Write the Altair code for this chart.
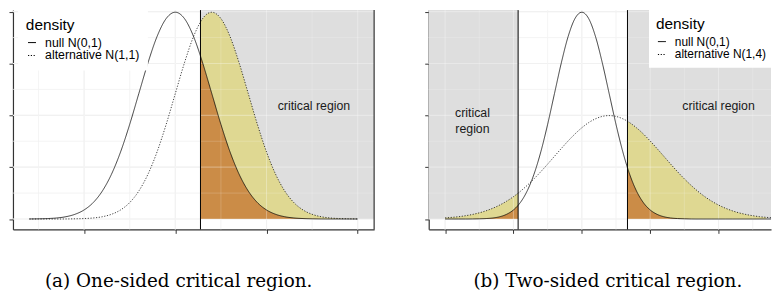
import altair as alt
import pandas as pd

# ---------------- data ----------------
# panel (a): null N(0,1) vs alternative N(1,1), one-sided critical region
xa = [-4, -3.75, -3.5, -3.25, -3, -2.75, -2.5, -2.25, -2, -1.75, -1.5, -1.25, -1,
      -0.75, -0.5, -0.25, 0, 0.25, 0.5, 0.69, 0.75, 1, 1.25, 1.5, 1.75, 2, 2.25,
      2.5, 2.75, 3, 3.25, 3.5, 3.75, 4, 4.25, 4.5, 4.75, 5]
null_a = [0.0001, 0.0004, 0.0009, 0.0020, 0.0044, 0.0091, 0.0175, 0.0317, 0.0540,
          0.0863, 0.1295, 0.1826, 0.2420, 0.3011, 0.3521, 0.3867, 0.3989, 0.3867,
          0.3521, 0.3144, 0.3011, 0.2420, 0.1826, 0.1295, 0.0863, 0.0540, 0.0317,
          0.0175, 0.0091, 0.0044, 0.0020, 0.0009, 0.0004, 0.0001, 0.0000, 0.0000,
          0.0000, 0.0000]
alt_a = [0.0000, 0.0000, 0.0000, 0.0000, 0.0001, 0.0004, 0.0009, 0.0020, 0.0044,
         0.0091, 0.0175, 0.0317, 0.0540, 0.0863, 0.1295, 0.1826, 0.2420, 0.3011,
         0.3521, 0.3802, 0.3867, 0.3989, 0.3867, 0.3521, 0.3011, 0.2420, 0.1826,
         0.1295, 0.0863, 0.0540, 0.0317, 0.0175, 0.0091, 0.0044, 0.0020, 0.0009,
         0.0004, 0.0001]
crit_a = [0.69]
regions_a = [(0.69, 5.45)]
xdom_a = [-4.45, 5.45]
xticks_a = [-2.5, 0, 2.5, 5]
xminor_a = [-3.75, -1.25, 1.25, 3.75]
labels_a = ["null N(0,1)", "alternative N(1,1)"]
text_a = [(3.80, 0.218, "critical region")]

# panel (b): null N(0,1) vs alternative N(1,4), two-sided critical region
xb = [-5, -4.75, -4.5, -4.25, -4, -3.75, -3.5, -3.25, -3, -2.75, -2.5, -2.33, -2.25,
      -2, -1.75, -1.5, -1.25, -1, -0.75, -0.5, -0.25, 0, 0.25, 0.5, 0.75, 1, 1.25,
      1.5, 1.67, 1.75, 2, 2.25, 2.5, 2.75, 3, 3.25, 3.5, 3.75, 4, 4.25, 4.5, 4.75,
      5, 5.25, 5.5, 5.75, 6, 6.25, 6.5, 6.75, 7]
null_b = [0.0000, 0.0000, 0.0000, 0.0000, 0.0001, 0.0004, 0.0009, 0.0020, 0.0044,
          0.0091, 0.0175, 0.0264, 0.0317, 0.0540, 0.0863, 0.1295, 0.1826, 0.2420,
          0.3011, 0.3521, 0.3867, 0.3989, 0.3867, 0.3521, 0.3011, 0.2420, 0.1826,
          0.1295, 0.0989, 0.0863, 0.0540, 0.0317, 0.0175, 0.0091, 0.0044, 0.0020,
          0.0009, 0.0004, 0.0001, 0.0000, 0.0000, 0.0000, 0.0000, 0.0000, 0.0000,
          0.0000, 0.0000, 0.0000, 0.0000, 0.0000, 0.0000]
alt_b = [0.0022, 0.0032, 0.0045, 0.0064, 0.0088, 0.0119, 0.0159, 0.0209, 0.0270,
         0.0344, 0.0431, 0.0499, 0.0533, 0.0648, 0.0775, 0.0913, 0.1059, 0.1210,
         0.1360, 0.1506, 0.1641, 0.1760, 0.1859, 0.1933, 0.1979, 0.1995, 0.1979,
         0.1933, 0.1886, 0.1859, 0.1760, 0.1641, 0.1506, 0.1360, 0.1210, 0.1059,
         0.0913, 0.0775, 0.0648, 0.0533, 0.0431, 0.0344, 0.0270, 0.0209, 0.0159,
         0.0119, 0.0088, 0.0064, 0.0045, 0.0032, 0.0022]
crit_b = [-2.33, 1.67]
regions_b = [(-5.6, -2.33), (1.67, 6.92)]
xdom_b = [-5.6, 6.92]
xticks_b = [-5, -2.5, 0, 2.5, 5]
xminor_b = [-3.75, -1.25, 1.25, 3.75, 6.25]
labels_b = ["null N(0,1)", "alternative N(1,4)"]
text_b = [(-4.0, 0.205, "critical\nregion"), (5.0, 0.218, "critical region")]

ydom = [-0.02, 0.403]
yticks = [0, 0.1, 0.2, 0.3, 0.4]
yminor = [0.05, 0.15, 0.25, 0.35]

GRID = "#EBEBEB"
AXIS = "#333333"
SANS = "Liberation Sans"


def panel(x, null, altd, crit, regions, xdom, xticks, xminor, labels, texts,
          width, caption, cap_dx, legend_x, legend_pad, label_size, right_border):
    xs = alt.Scale(domain=xdom, nice=False, zero=False)
    ys = alt.Scale(domain=ydom, nice=False, zero=False)
    xaxis = alt.Axis(values=xticks, labels=False, ticks=True, tickSize=4,
                     tickColor=AXIS, tickWidth=1, domainColor=AXIS, domainWidth=1.2,
                     grid=False, title=None)
    yaxis = alt.Axis(values=yticks, labels=False, ticks=True, tickSize=4,
                     tickColor=AXIS, tickWidth=1, domainColor=AXIS, domainWidth=1.2,
                     grid=False, title=None)
    X = alt.X("x:Q", scale=xs, axis=xaxis)
    Y = alt.Y("y:Q", scale=ys, axis=yaxis)

    curves = pd.DataFrame({
        "x": list(x) * 2,
        "y": list(null) + list(altd),
        "y0": [0.0] * (2 * len(x)),
        "dist": [labels[0]] * len(x) + [labels[1]] * len(x),
    })

    def in_region(row):
        return any(a <= row["x"] <= b for a, b in regions)

    fills = curves[curves.apply(in_region, axis=1)].copy()
    fills["part"] = fills["x"].apply(lambda v: 0 if v < 0 else 1)
    fills["grp"] = fills["dist"] + fills["part"].astype(str)

    vmaj = pd.DataFrame({"x": xticks})
    vmin = pd.DataFrame({"x": xminor})
    hmaj = pd.DataFrame({"y": yticks})
    hmin = pd.DataFrame({"y": yminor})
    rect = pd.DataFrame({"x": [a for a, b in regions], "x2": [b for a, b in regions],
                         "y": [0.0] * len(regions), "y2": [ydom[1]] * len(regions)})
    crit_df = pd.DataFrame({"x": crit})
    txt = pd.DataFrame({"x": [t[0] for t in texts], "y": [t[1] for t in texts],
                        "label": [t[2] for t in texts]})

    layers = []
    layers.append(alt.Chart(vmaj).mark_rule(color=GRID, strokeWidth=1.1).encode(x=X))
    layers.append(alt.Chart(vmin).mark_rule(color=GRID, strokeWidth=0.6).encode(x=X))
    layers.append(alt.Chart(hmaj).mark_rule(color=GRID, strokeWidth=1.1).encode(y=Y))
    layers.append(alt.Chart(hmin).mark_rule(color=GRID, strokeWidth=0.6).encode(y=Y))
    layers.append(alt.Chart(rect).mark_rect(color="#DEDEDE", clip=True).encode(
        x=X, x2="x2:Q", y=Y, y2="y2:Q"))
    layers.append(alt.Chart(fills[fills["dist"] == labels[1]]).mark_area(
        color="#DFD892", interpolate="monotone", clip=True).encode(
        x=X, y=Y, y2="y0:Q", detail="grp:N"))
    layers.append(alt.Chart(fills[fills["dist"] == labels[0]]).mark_area(
        color="#CB8C47", interpolate="monotone", clip=True).encode(
        x=X, y=Y, y2="y0:Q", detail="grp:N"))
    layers.append(alt.Chart(vmaj).mark_rule(color="white", opacity=0.3, strokeWidth=1.1).encode(x=X))
    layers.append(alt.Chart(vmin).mark_rule(color="white", opacity=0.3, strokeWidth=0.6).encode(x=X))
    layers.append(alt.Chart(hmaj).mark_rule(color="white", opacity=0.3, strokeWidth=1.1).encode(y=Y))
    layers.append(alt.Chart(hmin).mark_rule(color="white", opacity=0.3, strokeWidth=0.6).encode(y=Y))
    layers.append(alt.Chart(curves).mark_line(
        color="black", strokeWidth=0.75, interpolate="monotone", clip=True).encode(
        x=X, y=Y,
        strokeDash=alt.StrokeDash(
            "dist:N",
            scale=alt.Scale(domain=labels, range=[[1, 0], [1.2, 1.6]]),
            legend=alt.Legend(
                title="density", orient="none", legendX=legend_x, legendY=0,
                fillColor="white", padding=legend_pad,
                titleFont=SANS, titleFontSize=15.5, titleFontWeight="normal",
                titleColor="black", titlePadding=4,
                labelFont=SANS, labelFontSize=label_size, labelColor="black",
                labelOffset=7, clipHeight=10.5, rowPadding=0,
                symbolType="stroke", symbolSize=64, symbolStrokeColor="black",
                symbolStrokeWidth=1, symbolFillColor="black")),
        order="x:Q"))
    layers.append(alt.Chart(crit_df).mark_rule(color="black", strokeWidth=1).encode(x=X))
    if right_border:
        rb = pd.DataFrame({"x": [xdom[1]]})
        layers.append(alt.Chart(rb).mark_rule(color=AXIS, strokeWidth=1.2).encode(x=X))
    layers.append(alt.Chart(txt).mark_text(
        font=SANS, fontSize=12.4, color="#1A1A1A", align="center",
        baseline="middle", lineBreak="\n", lineHeight=16).encode(
        x=X, y=Y, text="label:N"))

    return alt.layer(*layers).properties(
        width=width, height=221,
        title=alt.TitleParams(caption, orient="bottom", font="DejaVu Serif",
                              fontSize=18.5, fontWeight="normal", color="black",
                              offset=39, anchor="middle", dx=cap_dx),
    ).resolve_scale(strokeDash="independent")


pa = panel(xa, null_a, alt_a, crit_a, regions_a, xdom_a, xticks_a, xminor_a,
           labels_a, text_a, 364, "(a) One-sided critical region.", -15, 5, 8, 12.4, True)
pb = panel(xb, null_b, alt_b, crit_b, regions_b, xdom_b, xticks_b, xminor_b,
           labels_b, text_b, 345, "(b) Two-sided critical region.", 8, 222, 7, 12, False)

chart = alt.hconcat(pa, pb, spacing=49).resolve_scale(
    strokeDash="independent").resolve_legend(strokeDash="independent").properties(
    padding=0).configure_view(stroke=None)

chart.save("out.html", embed_options={"renderer": "svg", "actions": False})
